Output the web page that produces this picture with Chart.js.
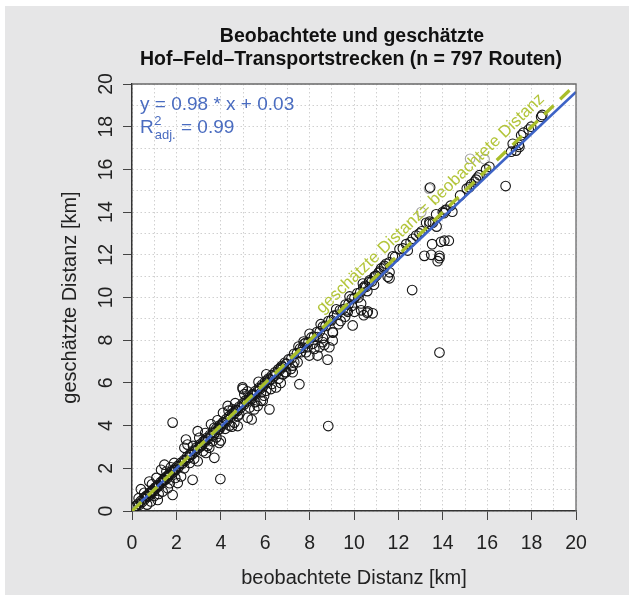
<!DOCTYPE html>
<html>
<head>
<meta charset="utf-8">
<script src="https://cdn.jsdelivr.net/npm/chart.js@4.4.1/dist/chart.umd.min.js"></script>
<style>
body { margin: 0; background: #fff; }
canvas { display: block; }
</style>
</head>
<body>
<canvas id="chart" width="633" height="600"></canvas>
<script>
// [beobachtet, geschätzt] in km
var bandShort = [[0.12,0.15],[0.18,0.24],[0.27,0.33],[0.33,0.29],[0.4,0.47],[0.46,0.42],[0.53,0.6],[0.58,0.55],[0.66,0.72],[0.71,0.67],
  [0.79,0.84],[0.83,0.78],[0.91,0.97],[0.96,0.92],[1.04,1.1],[1.08,1.05],[1.17,1.21],[1.22,1.18],[1.29,1.35],[1.34,1.3],
  [1.43,1.48],[1.47,1.44],[1.56,1.62],[1.6,1.55],[1.69,1.73],[1.73,1.68],[1.81,1.87],[1.86,1.81],[1.94,1.99],[1.98,1.93],
  [0.62,0.68],[0.88,0.9],[1.13,1.15],[1.39,1.42],[1.64,1.66],[1.9,1.92]];
var spreadShort = [[0.4,1.02],[0.78,1.38],[1.16,0.52],[1.83,0.75],[0.68,0.3],[1.31,1.93],[1.46,2.17],[1.9,2.25],[2.73,1.46],[3.98,1.5],
  [1.83,4.14],[2.21,1.62],[2.06,1.31],[1.61,1.07],[1.38,0.91],[1.46,1.46],[0.55,0.85],[1.0,0.7],[1.2,0.8],[0.9,1.25],
  [1.1,1.55],[1.7,1.3],[1.95,1.55],[0.3,0.6],[0.85,0.45],[1.55,1.85],[1.75,2.05],[2.35,2.0]];
var bandMid = [[2.04,2.1],[2.1,2.06],[2.19,2.25],[2.25,2.21],[2.34,2.38],[2.4,2.35],[2.48,2.54],[2.55,2.49],[2.63,2.68],[2.69,2.64],
  [2.78,2.83],[2.84,2.79],[2.92,2.98],[2.99,2.94],[3.07,3.12],[3.13,3.08],[3.22,3.27],[3.28,3.23],[3.36,3.42],[3.43,3.37],
  [3.51,3.56],[3.57,3.52],[3.66,3.71],[3.72,3.66],[3.8,3.86],[3.87,3.81],[3.95,4.01],[4.01,3.96],[4.1,4.15],[4.16,4.1],
  [4.24,4.3],[4.31,4.25],[4.39,4.45],[4.45,4.39],[4.54,4.59],[4.6,4.55],[4.68,4.74],[4.75,4.69],[4.83,4.88],[4.89,4.84],
  [4.98,5.03],[5.04,4.98],[5.12,5.18],[5.19,5.13],[5.27,5.32],[5.33,5.28],[5.42,5.47],[5.48,5.42],[5.56,5.62],[5.63,5.57],
  [5.71,5.76],[5.77,5.71],[5.86,5.91],[5.92,5.86],[6.0,6.06],[6.07,6.01],[6.15,6.2],[6.21,6.15],[6.3,6.35],[6.36,6.3],
  [6.44,6.5],[6.51,6.45],[6.59,6.64],[6.65,6.59],[6.74,6.79],[6.8,6.74],[6.88,6.94],[6.95,6.89],[2.6,2.62],[3.3,3.32],
  [4.05,4.06],[4.7,4.72],[5.4,5.41],[6.1,6.12],[6.7,6.71]];
var spreadMid = [[2.36,2.96],[2.5,3.11],[2.43,3.35],[2.96,3.74],[3.03,3.43],[3.56,4.06],[3.71,3.9],[3.93,3.82],[3.63,3.27],[3.48,2.96],
  [3.71,2.49],[3.33,2.72],[3.93,3.19],[3.11,3.03],[2.96,2.33],[4.31,4.92],[4.54,4.76],[4.76,4.45],[2.6,2.25],[2.8,2.45],
  [3.2,2.8],[3.4,3.05],[3.8,3.45],[4.0,3.3],[4.2,3.85],[4.4,4.0],[4.5,3.95],[4.76,3.98],[4.61,4.14],[4.1,4.6],
  [4.98,5.79],[5.39,4.29],[5.06,5.47],[4.99,5.71],[5.36,5.24],[5.21,4.37],[4.83,4.53],[5.51,4.76],[5.66,4.92],[5.81,5.16],
  [5.81,5.55],[6.04,5.63],[6.26,5.71],[6.49,5.79],[6.19,4.76],[5.89,5.16],[5.3,4.85],[5.55,5.1],[5.95,5.4],[6.3,5.95],
  [6.6,6.2],[6.8,6.4],[5.2,5.6],[5.7,6.05],[6.05,6.4],[4.65,5.05],[3.3,3.65],[2.75,3.05],[3.85,4.25],[4.35,4.7],
  [6.9,6.5],[6.7,6.0]];
var bandLong = [[7.05,7.1],[7.18,7.14],[7.3,7.36],[7.43,7.39],[7.57,7.61],[7.7,7.65],[7.82,7.88],[7.95,7.91],[8.08,8.13],[8.2,8.16],
  [8.33,8.38],[8.46,8.41],[8.6,8.64],[8.72,8.67],[8.85,8.9],[8.98,8.93],[9.1,9.15],[9.24,9.19],[9.37,9.41],[9.5,9.45],
  [9.62,9.67],[9.76,9.71],[9.9,9.94],[10.02,9.97],[10.15,10.2],[10.28,10.23],[10.42,10.46],[10.55,10.5],[10.68,10.72],[10.8,10.75],
  [10.95,10.99],[10.5,10.55],[10.7,10.8],[10.92,10.98],[7.5,7.7],[8.0,8.3],[8.5,8.75],[9.2,9.45],[9.8,10.05],[10.4,10.65]];
var spreadLong = [[7.54,5.94],[7.61,7.44],[7.46,6.97],[7.24,6.81],[6.94,6.5],[7.16,6.65],[7.76,7.83],[7.91,7.67],[7.73,7.94],[9.04,8.38],
  [9.04,7.99],[8.89,7.67],[8.59,7.91],[8.44,7.67],[8.21,7.59],[8.14,7.83],[8.36,8.15],[7.84,7.44],[8.81,7.09],[8.36,7.28],
  [7.99,7.28],[8.66,7.78],[7.31,6.97],[7.24,6.5],[8.84,3.98],[9.05,8.35],[8.6,8.1],[9.4,8.9],[9.68,9.4],[9.94,8.69],
  [10.44,9.17],[10.59,9.29],[10.84,9.26],[10.32,9.72],[10.62,9.35],[10.32,9.4],[10.02,9.33],[9.72,9.33],[9.9,9.6],[10.2,10.0],
  [10.6,10.3],[10.9,10.6],[9.6,9.1],[9.3,8.75]];
var bandFar = [[11.0,11.02],[11.1,11.15],[11.22,11.36],[11.35,11.4],[11.45,11.58],[11.6,11.65],[11.75,11.93],[11.85,11.9],[12.05,12.27],[12.2,12.3],
  [12.35,12.5],[12.42,12.2],[12.55,12.6],[12.65,12.75],[12.8,12.9],[12.95,13.0],[13.05,13.1],[13.25,13.5],[13.4,13.45],[13.55,13.5],
  [14.0,14.0],[14.12,14.08],[14.35,14.3],[14.78,14.78],[15.08,15.1],[15.2,15.17],[15.28,15.3],[15.43,15.42],[15.5,15.52],[15.57,15.62],
  [15.65,15.73],[15.95,16.0],[16.1,16.12],[17.08,16.83],[17.3,16.88],[17.15,17.2],[17.42,17.15],[17.45,17.05],[17.53,17.6],[17.63,17.72],
  [17.87,17.87],[17.98,18.0],[18.43,18.47],[18.48,18.55],[11.15,11.22],[11.37,11.48],[13.4,13.55],[13.7,13.9]];
var spreadFar = [[11.6,10.9],[11.6,11.18],[11.52,10.97],[12.62,10.35],[13.85,7.42],[13.17,11.95],[13.48,12.0],[13.85,11.84],[13.85,11.95],[13.77,11.7],
  [13.52,12.5],[13.92,12.61],[14.07,12.66],[14.27,12.66],[13.72,13.32],[13.43,15.15],[16.83,15.22],[14.43,14.02],[14.15,14.12],[14.05,13.95]];
var greyRoutes = [[13.03,14.0],[15.23,16.5],[15.88,16.48],[13.38,15.1]];

var fitSlope = 0.98;
var fitIntercept = 0.03;
var axisMin = 0;
var axisMax = 20;
var tickLabels = ['0','2','4','6','8','10','12','14','16','18','20'];

var titleLines = ['Beobachtete und geschätzte', 'Hof\u2013Feld\u2013Transportstrecken (n = 797 Routen)'];
var xTitle = 'beobachtete Distanz [km]';
var yTitle = 'geschätzte Distanz [km]';
var diagText = 'geschätzte Distanz= beobachtete Distanz';

var FONT = "'Liberation Sans', Arial, Helvetica, sans-serif";
var BLUE = '#3d63c6';
var GREEN = '#a9be2a';

function toPoints(list) {
  return list.map(function(p) { return { x: p[0], y: p[1] }; });
}

var routes = [].concat(bandShort, spreadShort, bandMid, spreadMid, bandLong, spreadLong, bandFar, spreadFar);

function isLabelled(v) {
  return tickLabels.indexOf(String(v)) >= 0;
}

var decorations = {
  id: 'decorations',
  beforeDraw: function(chart) {
    var ctx = chart.ctx, a = chart.chartArea;
    ctx.save();
    ctx.fillStyle = '#ffffff';
    ctx.fillRect(0, 0, chart.width, chart.height);
    ctx.fillStyle = '#e6e6e7';
    ctx.fillRect(5, 6, 624, 589);
    ctx.fillStyle = '#ffffff';
    ctx.fillRect(a.left, a.top, a.right - a.left, a.bottom - a.top);
    ctx.restore();
  },
  afterDraw: function(chart) {
    var ctx = chart.ctx, a = chart.chartArea;
    var xs = chart.scales.x, ys = chart.scales.y;
    ctx.save();

    // top and right frame
    ctx.strokeStyle = '#6a6a6a';
    ctx.lineWidth = 1.3;
    ctx.beginPath();
    ctx.moveTo(a.left, a.top);
    ctx.lineTo(a.right, a.top);
    ctx.lineTo(a.right, a.bottom);
    ctx.stroke();

    // title
    ctx.fillStyle = '#111';
    ctx.textAlign = 'center';
    ctx.textBaseline = 'alphabetic';
    ctx.font = 'bold 19.5px ' + FONT;
    var cx = (a.left + a.right) / 2;
    ctx.fillText(titleLines[0], cx - 2, 42);
    ctx.fillText(titleLines[1], cx - 3, 65);

    // axis titles
    ctx.font = '20px ' + FONT;
    ctx.fillStyle = '#222';
    ctx.fillText(xTitle, cx, 584);
    ctx.save();
    ctx.translate(76, (a.top + a.bottom) / 2);
    ctx.rotate(-Math.PI / 2);
    ctx.fillText(yTitle, 0, 0);
    ctx.restore();

    // y tick labels (rotated like R)
    ctx.font = '19.5px ' + FONT;
    tickLabels.forEach(function(t) {
      var py = ys.getPixelForValue(Number(t));
      ctx.save();
      ctx.translate(112, py);
      ctx.rotate(-Math.PI / 2);
      ctx.textAlign = 'center';
      ctx.textBaseline = 'alphabetic';
      ctx.fillText(t, 0, 0);
      ctx.restore();
    });

    // regression formula
    ctx.fillStyle = '#4a6cc0';
    ctx.textAlign = 'left';
    ctx.font = '19px ' + FONT;
    var fx = a.left + 8;
    ctx.fillText('y = ' + fitSlope.toFixed(2) + ' * x + ' + fitIntercept.toFixed(2), fx, 110);
    ctx.fillText('R', fx, 133);
    var w = ctx.measureText('R').width;
    ctx.font = '13px ' + FONT;
    ctx.fillText('2', fx + w + 0.5, 125);
    ctx.fillText('adj.', fx + w + 1, 139);
    var w2 = ctx.measureText('adj.').width;
    ctx.font = '19px ' + FONT;
    ctx.fillText(' = 0.99', fx + w + w2 + 1, 133);

    // label on the 1:1 line
    var p0x = xs.getPixelForValue(axisMin), p0y = ys.getPixelForValue(axisMin);
    var p1x = xs.getPixelForValue(axisMax), p1y = ys.getPixelForValue(axisMax);
    var ang = Math.atan2(p1y - p0y, p1x - p0x);
    var mx = xs.getPixelForValue(13.9), my = ys.getPixelForValue(13.9);
    ctx.translate(mx, my);
    ctx.rotate(ang);
    ctx.font = '16.8px ' + FONT;
    ctx.fillStyle = '#b3c53a';
    ctx.textAlign = 'center';
    ctx.textBaseline = 'alphabetic';
    ctx.fillText(diagText, 0, -10);
    ctx.restore();
  }
};

var gridDash = [1.5, 2.5];

function axisOptions(isX) {
  return {
    type: 'linear',
    min: axisMin,
    max: axisMax,
    afterFit: function(s) {
      if (isX) { s.height = 89; } else { s.width = 132; }
    },
    ticks: {
      display: isX,
      stepSize: 1,
      autoSkip: false,
      maxRotation: 0,
      padding: 12,
      color: '#222',
      font: { family: FONT, size: 19.5 },
      callback: function(v) { return isLabelled(v) ? String(v) : ''; }
    },
    grid: {
      color: '#d0d0d0',
      lineWidth: 1,
      tickLength: 9,
      tickWidth: 1,
      tickColor: function(c) {
        return (c.tick && isLabelled(c.tick.value)) ? '#444' : 'rgba(0,0,0,0)';
      }
    },
    border: { display: true, color: '#333', width: 1.5, dash: gridDash }
  };
}

new Chart(document.getElementById('chart'), {
  type: 'scatter',
  data: {
    datasets: [{
      label: 'geschätzt = beobachtet',
      data: [{ x: axisMin, y: axisMin }, { x: axisMax, y: axisMax }],
      showLine: true,
      borderColor: GREEN,
      borderWidth: 3.2,
      borderDash: [13, 9],
      pointRadius: 0,
      order: 0
    }, {
      label: 'Regression',
      data: [{ x: axisMin, y: fitIntercept + fitSlope * axisMin }, { x: axisMax, y: fitIntercept + fitSlope * axisMax }],
      showLine: true,
      borderColor: BLUE,
      borderWidth: 2.6,
      pointRadius: 0,
      order: 1
    }, {
      label: 'Routen',
      data: toPoints(routes),
      pointRadius: 4.8,
      pointBorderWidth: 1.1,
      borderColor: '#151515',
      backgroundColor: 'rgba(0,0,0,0)',
      order: 2
    }, {
      label: 'Routen (hell)',
      data: toPoints(greyRoutes),
      pointRadius: 4.8,
      pointBorderWidth: 1.1,
      borderColor: '#a5a5a5',
      backgroundColor: 'rgba(0,0,0,0)',
      order: 3
    }]
  },
  options: {
    responsive: false,
    animation: false,
    devicePixelRatio: 1,
    layout: { padding: { left: 0, right: 57, top: 84, bottom: 0 } },
    plugins: { legend: { display: false }, tooltip: { enabled: false } },
    scales: { x: axisOptions(true), y: axisOptions(false) }
  },
  plugins: [decorations]
});
</script>
</body>
</html>
